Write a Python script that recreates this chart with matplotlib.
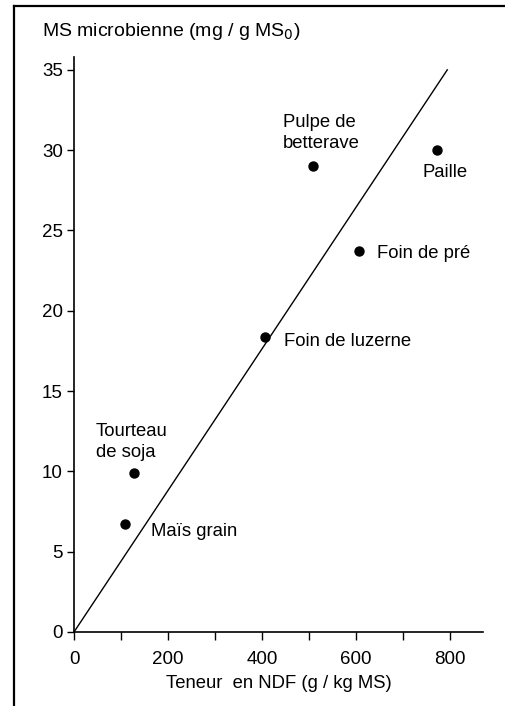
import matplotlib.pyplot as plt
from matplotlib.lines import Line2D

plt.rcParams['font.family'] = ['Liberation Sans', 'DejaVu Sans']

# feeds: NDF content (g/kg MS) vs microbial MS (mg/g MS0)
feeds = ["Pulpe de\nbetterave", "Paille", "Foin de pré", "Foin de luzerne",
         "Tourteau\nde soja", "Maïs grain"]
ndf = [508, 772, 607, 406, 128, 108]
ms_micro = [29.0, 30.0, 23.7, 18.35, 9.9, 6.7]

# regression line through origin
line_x = [0, 794]
line_y = [0, 35]

# label offsets in points (dx, dy)
label_pos = [(-21.4, 24.1), (-10.1, -16.3), (12.5, -1.4),
             (13.5, -3.2), (-27.6, 22.5), (18.7, -4.8)]

xticks = [0, 100, 200, 300, 400, 500, 600, 700, 800]
xticklabels = ["0", "", "200", "", "400", "", "600", "", "800"]
yticks = [0, 5, 10, 15, 20, 25, 30, 35]

fig = plt.figure(figsize=(5.05, 7.06), dpi=100)
ax = fig.add_axes([74 / 505, 1 - 632 / 706, (483 - 74) / 505, (632 - 57) / 706])

ax.plot(line_x, line_y, color='black', lw=1.0)
ax.scatter(ndf, ms_micro, s=42, color='black', zorder=3)

for name, x, y, (dx, dy) in zip(feeds, ndf, ms_micro, label_pos):
    ax.annotate(name, (x, y), xytext=(dx, dy), textcoords='offset points',
                ha='left', va='center', fontsize=13.3, linespacing=1.32)

ax.set_xlim(0, 870)
ax.set_ylim(0, 35.8)
ax.set_xticks(xticks)
ax.set_xticklabels(xticklabels)
ax.set_yticks(yticks)
ax.tick_params(labelsize=13.5, width=1, direction='out')
ax.tick_params(axis='x', length=6, pad=8)
ax.tick_params(axis='y', length=5, pad=3)
for s in ['top', 'right']:
    ax.spines[s].set_visible(False)
for s in ['left', 'bottom']:
    ax.spines[s].set_linewidth(1.2)

ax.set_xlabel("Teneur  en NDF (g / kg MS)", fontsize=13.3, labelpad=5)
fig.text(42 / 505, 1 - 32 / 706, "MS microbienne (mg / g MS$_0$)",
         fontsize=14, ha='left', va='center')

# frame around the figure
fig.add_artist(Line2D([13.5 / 505, 13.5 / 505], [0, 1 - 5.5 / 706],
                      color='black', lw=1.6, transform=fig.transFigure))
fig.add_artist(Line2D([13.5 / 505, 1], [1 - 5.5 / 706, 1 - 5.5 / 706],
                      color='black', lw=1.6, transform=fig.transFigure))

fig.savefig("out.png", dpi=100)
